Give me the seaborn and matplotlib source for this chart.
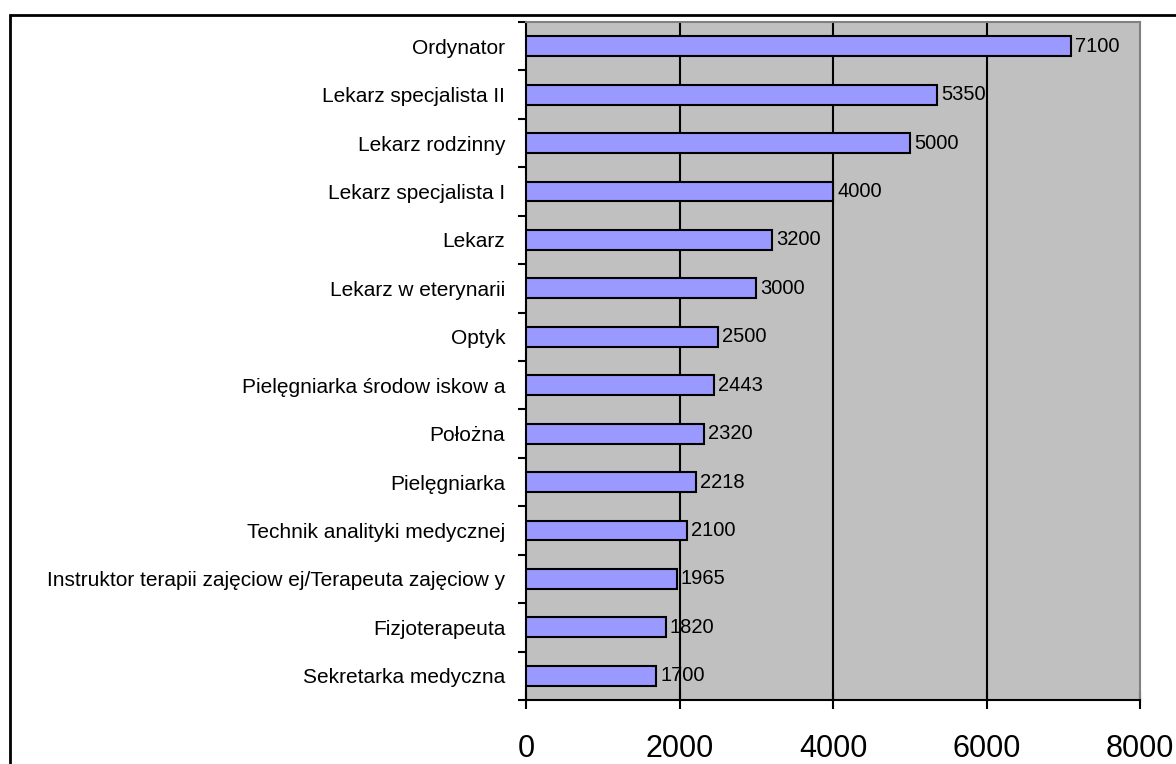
import numpy as np
import pandas as pd
import matplotlib
matplotlib.use("Agg")
import matplotlib.pyplot as plt
import seaborn as sns
from matplotlib.patches import Rectangle
from matplotlib.ticker import FixedLocator

# dane z wykresu
zawody = ["Ordynator", "Lekarz specjalista II", "Lekarz rodzinny", "Lekarz specjalista I",
          "Lekarz", "Lekarz w eterynarii", "Optyk", "Pielęgniarka środow iskow a",
          "Położna", "Pielęgniarka", "Technik analityki medycznej",
          "Instruktor terapii zajęciow ej/Terapeuta zajęciow y", "Fizjoterapeuta",
          "Sekretarka medyczna"]
placa = [7100, 5350, 5000, 4000, 3200, 3000, 2500, 2443, 2320, 2218, 2100, 1965, 1820, 1700]
xticks = [0, 2000, 4000, 6000, 8000]

df = pd.DataFrame({"zawod": zawody, "placa": placa})

sns.set_style("white", {"xtick.bottom": True, "ytick.left": True})
plt.rcParams['font.family'] = ['Liberation Sans', 'DejaVu Sans']
plt.rcParams['text.color'] = 'black'
plt.rcParams['xtick.color'] = 'black'
plt.rcParams['ytick.color'] = 'black'

fig = plt.figure(figsize=(11.76, 7.64), dpi=100)
ax = fig.add_axes([526/1176, 1-700/764, (1140-526)/1176, (700-22)/764])
ax.set_facecolor("#C0C0C0")

sns.barplot(data=df, x="placa", y="zawod", orient="h", color="#9999FF",
            edgecolor="black", linewidth=1.5, width=0.41, saturation=1, ax=ax, zorder=3)
ax.bar_label(ax.containers[0], padding=3, fontsize=14.5, color="black", zorder=4)

ax.set_xlim(0, 8000)
ax.set_ylim(len(zawody)-0.5, -0.5)
ax.set_xticks(xticks)
ax.set_xticklabels([str(t) for t in xticks], fontsize=22)
ax.tick_params(axis="x", which="major", direction="inout", length=13, width=1.5,
               bottom=True, pad=18)
ax.tick_params(axis="y", which="major", length=0, labelsize=15, pad=15)
ax.yaxis.set_minor_locator(FixedLocator(np.arange(-0.5, len(zawody), 1)))
ax.tick_params(axis="y", which="minor", direction="out", length=6, width=1.5, left=True)
ax.set_xlabel("")
ax.set_ylabel("")

for g in xticks[1:-1]:
    ax.axvline(g, color="black", lw=1.5, zorder=1)

for s in ["left", "bottom"]:
    ax.spines[s].set_color("black")
    ax.spines[s].set_linewidth(1.5)
for s in ["right", "top"]:
    ax.spines[s].set_color("#808080")
    ax.spines[s].set_linewidth(1.5)

# ramka wykresu (wychodzi poza obraz)
fig.patches.append(Rectangle((10/1176, -0.2), 1.0, 1.2-15/764, transform=fig.transFigure,
                             fill=False, edgecolor="black", lw=2, clip_on=False))

fig.savefig("out.png", dpi=100)
